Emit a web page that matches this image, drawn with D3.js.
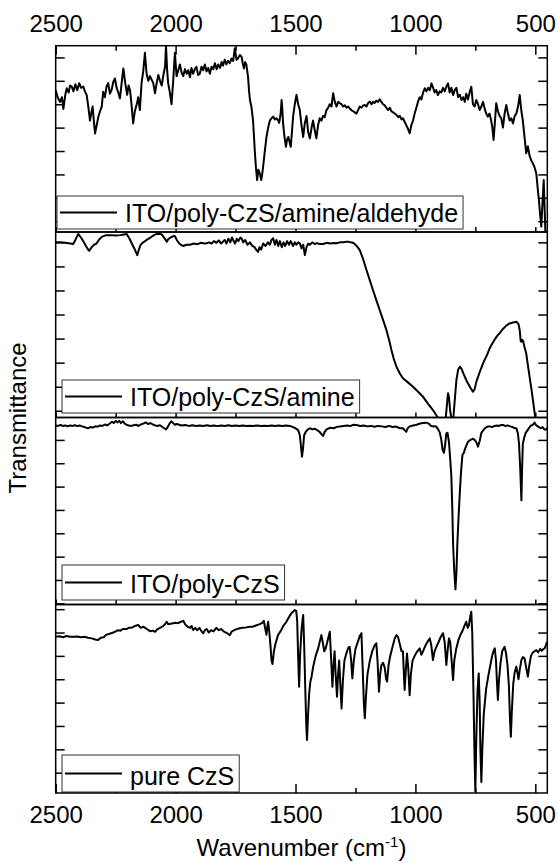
<!DOCTYPE html>
<html><head><meta charset="utf-8">
<script src="https://cdn.jsdelivr.net/npm/d3@7"></script>
<style>
body{margin:0;background:#fff}
svg{display:block}
text{font-family:"Liberation Sans",Arial,sans-serif;fill:#000}
</style>
</head><body>
<svg id="chart" width="558" height="864"></svg>
<script>
// ---------------- DATA ----------------
const xMajorTicks = [2500, 2000, 1500, 1000, 500];
const xMinorTicks = [2250, 1750, 1250, 750];
const xDomain = [2500, 450];
const seriesNames = ["ITO/poly-CzS/amine/aldehyde", "ITO/poly-CzS/amine", "ITO/poly-CzS", "pure CzS"];
const yTickValues = [1, 2, 3, 4, 5, 6, 7, 8];
const yDomains = [[0.54, 8.5], [0.72, 8.43], [0.95, 8.96], [0.13, 8.2]];

// [wavenumber (cm-1), transmittance (a.u.)]
const spectrumAldehyde = [[2500,6.6],[2492,6.3],[2482,6.1],[2474,6.3],[2468,5.8],[2460,6.4],[2454,6.68],[2446,6.5],[2440,6.8],[2433,6.75],[2426,6.55],[2418,6.85],[2410,6.6],[2402,6.9],[2394,6.7],[2385,6.75],[2378,6.55],[2371,6.4],[2364,5.9],[2357,5.3],[2352,5.6],[2346,5.9],[2341,5.3],[2336,4.75],[2329,5.1],[2322,5.47],[2315,5.7],[2308,5.9],[2302,6.53],[2295,6.3],[2288,6.75],[2281,6.9],[2274,6.45],[2267,6.6],[2260,6.95],[2253,7.1],[2246,6.7],[2239,6.5],[2232,6.25],[2225,6.9],[2218,7.53],[2210,6.9],[2202,6.4],[2196,6.8],[2190,6.6],[2184,6.0],[2177,5.18],[2170,5.7],[2162,6.0],[2156,6.3],[2149,5.75],[2142,6.9],[2135,7.4],[2128,8.2],[2121,7.3],[2114,7.0],[2107,7.2],[2100,7.05],[2093,6.9],[2086,6.47],[2079,6.9],[2072,7.25],[2065,7.0],[2058,6.8],[2050,7.3],[2044,7.6],[2040,8.49],[2035,7.4],[2031,6.9],[2024,6.5],[2017,6.0],[2010,7.0],[2003,8.2],[1996,7.2],[1989,7.45],[1982,7.7],[1975,7.35],[1968,7.2],[1961,7.5],[1954,7.3],[1947,7.45],[1940,7.15],[1934,7.55],[1927,7.3],[1920,7.5],[1913,7.6],[1906,7.25],[1899,7.3],[1892,7.6],[1885,7.45],[1878,7.7],[1871,7.4],[1864,7.55],[1857,7.3],[1850,7.6],[1843,7.5],[1836,7.75],[1829,7.5],[1822,7.7],[1815,7.55],[1808,7.8],[1802,7.65],[1795,7.9],[1788,7.7],[1781,7.85],[1774,7.75],[1767,7.95],[1760,7.85],[1753,8.39],[1746,7.9],[1740,7.95],[1732,8.1],[1725,8.03],[1720,7.75],[1715,7.53],[1710,7.8],[1705,7.7],[1698,7.18],[1694,6.6],[1690,6.18],[1684,5.9],[1677,5.3],[1673,4.6],[1670,4.04],[1665,3.3],[1660,2.76],[1655,3.2],[1649,3.05],[1643,2.76],[1639,3.0],[1635,3.33],[1628,4.0],[1621,4.6],[1614,5.0],[1607,5.3],[1600,5.4],[1593,5.47],[1586,5.35],[1579,5.4],[1572,5.3],[1568,5.2],[1562,5.6],[1558,6.18],[1555,5.8],[1552,5.2],[1546,4.6],[1540,4.18],[1535,4.5],[1530,4.6],[1525,4.4],[1520,4.18],[1515,4.8],[1510,5.47],[1503,6.0],[1496,6.4],[1489,6.0],[1482,5.75],[1475,5.1],[1468,4.6],[1461,5.2],[1454,5.5],[1447,4.8],[1440,4.54],[1433,5.0],[1427,5.3],[1420,4.9],[1413,4.54],[1406,5.1],[1399,5.4],[1392,5.3],[1385,5.5],[1378,5.45],[1371,5.75],[1364,5.85],[1357,6.0],[1350,5.9],[1343,6.47],[1336,6.1],[1329,5.9],[1322,6.1],[1315,6.04],[1308,6.0],[1301,5.9],[1294,5.95],[1287,5.85],[1280,5.9],[1274,5.82],[1267,5.75],[1260,5.7],[1253,5.65],[1246,5.6],[1239,5.75],[1232,5.9],[1225,5.85],[1218,5.95],[1211,5.97],[1204,5.9],[1197,6.05],[1190,6.11],[1183,6.0],[1176,6.1],[1170,6.05],[1163,6.15],[1156,6.1],[1149,6.21],[1142,6.1],[1135,6.0],[1128,5.95],[1121,5.85],[1114,5.75],[1107,5.85],[1100,5.7],[1093,5.65],[1086,5.6],[1079,5.54],[1072,5.45],[1065,5.5],[1058,5.35],[1052,5.4],[1045,5.25],[1038,5.1],[1031,4.95],[1024,4.76],[1017,5.1],[1010,5.3],[1003,5.6],[996,5.85],[989,6.11],[982,6.3],[975,6.2],[968,6.5],[961,6.68],[954,6.55],[947,6.7],[940,6.6],[933,6.89],[926,6.7],[920,6.5],[913,6.6],[906,6.39],[899,6.55],[892,6.5],[885,6.7],[878,6.55],[871,6.75],[864,6.89],[857,6.5],[850,6.7],[843,6.39],[836,6.6],[829,6.7],[822,6.3],[815,6.4],[808,6.18],[801,6.3],[794,6.1],[788,6.45],[781,6.2],[774,6.5],[767,6.75],[760,6.0],[753,5.9],[746,6.18],[739,6.0],[732,5.75],[725,5.9],[718,6.1],[711,5.8],[705,5.6],[698,5.47],[691,5.6],[684,5.3],[679,5.0],[674,4.47],[668,5.3],[663,6.04],[656,5.7],[649,5.5],[642,5.4],[635,5.0],[628,5.6],[621,5.97],[614,5.6],[607,5.3],[600,5.4],[593,5.18],[586,5.5],[579,5.6],[572,5.9],[565,6.39],[558,5.7],[552,5.3],[545,4.6],[538,3.9],[531,4.2],[524,3.8],[517,3.6],[510,3.47],[503,3.3],[496,3.05],[490,2.4],[485,1.9],[480,1.3],[475,0.77],[470,1.8],[465,2.76],[461,1.5],[457,0.2],[452,-0.5]];

const spectrumAmine = [[2500,8.0],[2480,8.0],[2460,7.98],[2440,7.95],[2427,7.93],[2418,8.1],[2406,8.35],[2395,8.2],[2385,8.05],[2374,7.85],[2365,7.7],[2360,7.65],[2350,7.8],[2340,7.9],[2330,7.95],[2320,8.1],[2308,8.23],[2290,8.3],[2270,8.3],[2250,8.28],[2230,8.3],[2215,8.33],[2204,8.35],[2192,8.15],[2180,7.9],[2170,7.7],[2160,7.47],[2153,7.7],[2146,7.9],[2135,8.0],[2121,8.1],[2105,8.2],[2090,8.3],[2079,8.35],[2068,8.36],[2058,8.33],[2048,8.2],[2037,8.03],[2029,8.15],[2021,8.2],[2012,8.25],[2003,8.26],[1995,8.1],[1985,7.95],[1975,7.88],[1968,7.85],[1955,7.9],[1940,7.9],[1925,7.95],[1910,7.92],[1895,7.98],[1880,7.95],[1871,7.96],[1860,8.0],[1850,7.95],[1840,8.05],[1830,7.98],[1820,8.08],[1810,7.95],[1802,8.03],[1795,8.1],[1788,7.95],[1780,8.15],[1772,8.0],[1765,8.2],[1760,8.1],[1752,7.95],[1745,8.15],[1738,8.05],[1730,8.2],[1725,8.17],[1718,8.0],[1710,8.1],[1700,7.9],[1690,8.0],[1680,7.85],[1671,7.8],[1664,7.7],[1656,7.6],[1650,7.8],[1643,7.7],[1635,7.95],[1625,7.85],[1615,8.0],[1607,7.9],[1600,8.1],[1593,8.17],[1586,7.9],[1579,8.1],[1572,7.85],[1565,8.05],[1557,7.8],[1550,8.0],[1543,7.85],[1535,8.05],[1527,7.9],[1520,8.05],[1510,7.85],[1503,8.0],[1496,7.9],[1489,8.0],[1482,7.96],[1475,7.75],[1468,7.9],[1461,7.47],[1454,7.8],[1447,7.95],[1440,7.9],[1430,8.0],[1420,7.93],[1410,7.97],[1400,7.93],[1385,7.93],[1370,7.98],[1355,7.95],[1340,7.97],[1329,7.96],[1315,8.0],[1300,8.0],[1290,8.02],[1281,8.03],[1270,8.0],[1260,7.98],[1253,7.93],[1245,7.85],[1232,7.68],[1218,7.3],[1204,6.85],[1190,6.42],[1177,6.02],[1163,5.6],[1149,5.19],[1135,4.78],[1121,4.36],[1110,3.95],[1100,3.53],[1090,3.15],[1079,2.83],[1065,2.55],[1052,2.35],[1030,2.17],[1010,2.0],[990,1.8],[968,1.58],[948,1.3],[927,1.03],[912,0.8],[899,0.6],[885,0.45],[875,0.55],[869,1.2],[864,1.73],[860,1.55],[855,1.0],[849,0.6],[843,0.55],[837,1.3],[829,2.28],[822,2.7],[815,2.83],[808,2.75],[798,2.5],[789,2.3],[781,2.14],[770,1.95],[760,1.79],[753,1.9],[746,2.2],[732,2.6],[718,2.97],[700,3.35],[690,3.6],[683,3.73],[670,3.95],[660,4.1],[649,4.22],[635,4.4],[620,4.55],[607,4.63],[593,4.67],[579,4.7],[570,4.6],[565,4.35],[561,3.9],[558,3.87],[555,3.95],[551,3.9],[545,3.65],[538,3.39],[531,2.9],[524,2.42],[517,1.95],[510,1.45],[504,1.0],[499,0.62],[494,0.3]];

const spectrumPolyCzS = [[2500,8.62],[2490,8.6],[2480,8.64],[2470,8.6],[2460,8.62],[2450,8.58],[2440,8.62],[2430,8.6],[2420,8.63],[2410,8.59],[2400,8.62],[2390,8.58],[2380,8.55],[2372,8.52],[2364,8.5],[2355,8.55],[2345,8.53],[2335,8.58],[2325,8.57],[2315,8.62],[2305,8.6],[2295,8.66],[2285,8.62],[2275,8.7],[2265,8.78],[2258,8.72],[2250,8.82],[2242,8.75],[2235,8.82],[2228,8.72],[2220,8.8],[2212,8.7],[2205,8.65],[2195,8.62],[2185,8.6],[2175,8.63],[2165,8.65],[2155,8.6],[2145,8.66],[2135,8.7],[2125,8.75],[2115,8.68],[2105,8.72],[2095,8.66],[2085,8.62],[2075,8.6],[2065,8.63],[2055,8.55],[2047,8.5],[2040,8.45],[2033,8.55],[2025,8.7],[2018,8.8],[2010,8.72],[2003,8.65],[1995,8.68],[1985,8.65],[1975,8.62],[1960,8.64],[1945,8.6],[1930,8.63],[1915,8.6],[1900,8.62],[1885,8.6],[1870,8.63],[1855,8.6],[1840,8.62],[1825,8.59],[1810,8.62],[1795,8.6],[1780,8.63],[1765,8.6],[1750,8.62],[1735,8.6],[1720,8.62],[1705,8.6],[1690,8.61],[1675,8.6],[1660,8.62],[1645,8.6],[1630,8.61],[1615,8.6],[1600,8.62],[1585,8.6],[1570,8.62],[1555,8.6],[1540,8.62],[1524,8.6],[1510,8.55],[1500,8.5],[1489,8.42],[1482,8.2],[1476,7.6],[1473,7.28],[1469,7.6],[1464,8.2],[1457,8.35],[1448,8.45],[1440,8.5],[1430,8.45],[1420,8.48],[1410,8.42],[1400,8.35],[1392,8.25],[1385,8.17],[1378,8.35],[1370,8.45],[1355,8.52],[1340,8.5],[1328,8.56],[1315,8.57],[1300,8.6],[1285,8.62],[1270,8.6],[1258,8.65],[1246,8.64],[1230,8.6],[1215,8.62],[1200,8.58],[1185,8.6],[1170,8.56],[1155,8.6],[1140,8.58],[1125,8.55],[1110,8.6],[1095,8.55],[1080,8.57],[1065,8.5],[1052,8.5],[1045,8.42],[1038,8.35],[1032,8.5],[1024,8.58],[1010,8.62],[995,8.65],[980,8.7],[968,8.72],[954,8.74],[945,8.7],[935,8.6],[927,8.58],[913,8.57],[905,8.45],[898,8.3],[892,8.0],[887,7.6],[881,7.45],[876,7.8],[871,8.28],[866,8.3],[860,7.9],[855,7.2],[850,6.42],[846,5.0],[843,3.57],[838,2.4],[833,1.6],[829,2.3],[825,3.57],[820,4.7],[815,5.71],[810,6.6],[804,7.35],[798,7.45],[792,7.65],[781,7.92],[770,8.0],[760,8.05],[753,8.0],[746,7.9],[739,7.71],[732,7.95],[725,8.3],[718,8.4],[710,8.5],[698,8.57],[690,8.58],[680,8.55],[670,8.6],[660,8.62],[650,8.6],[642,8.64],[635,8.64],[625,8.6],[615,8.62],[605,8.58],[595,8.55],[585,8.5],[579,8.5],[573,8.3],[568,7.85],[563,6.8],[558,5.42],[555,6.8],[552,7.85],[546,8.1],[540,8.3],[530,8.45],[520,8.6],[510,8.65],[503,8.74],[498,8.65],[492,8.6],[485,8.55],[478,8.5],[470,8.55],[462,8.45],[454,8.45],[450,8.5]];

const spectrumPureCzS = [[2500,6.82],[2485,6.84],[2470,6.8],[2455,6.85],[2440,6.82],[2427,6.82],[2410,6.83],[2395,6.8],[2380,6.82],[2365,6.78],[2350,6.75],[2335,6.7],[2323,6.68],[2312,6.78],[2300,6.8],[2290,6.9],[2275,6.95],[2260,7.0],[2250,7.05],[2240,7.1],[2230,7.08],[2220,7.15],[2205,7.15],[2195,7.2],[2180,7.22],[2170,7.28],[2156,7.32],[2145,7.2],[2135,7.25],[2120,7.15],[2105,7.05],[2095,7.08],[2086,7.03],[2075,7.15],[2065,7.2],[2055,7.25],[2045,7.35],[2037,7.46],[2030,7.35],[2020,7.38],[2010,7.4],[2000,7.42],[1990,7.4],[1980,7.45],[1968,7.5],[1960,7.35],[1950,7.25],[1940,7.2],[1933,7.28],[1927,7.11],[1918,7.2],[1910,7.1],[1900,7.2],[1892,7.05],[1885,6.97],[1878,7.1],[1870,7.15],[1862,7.0],[1852,7.1],[1842,7.05],[1830,7.2],[1820,7.1],[1810,7.15],[1800,7.05],[1790,7.0],[1782,6.95],[1774,6.89],[1765,7.05],[1755,7.1],[1745,7.15],[1732,7.18],[1720,7.2],[1705,7.22],[1690,7.25],[1677,7.25],[1665,7.3],[1652,7.35],[1640,7.4],[1632,7.5],[1627,7.2],[1621,6.9],[1617,7.3],[1614,7.46],[1609,7.0],[1604,6.4],[1600,5.8],[1596,5.65],[1590,6.2],[1584,6.5],[1573,6.89],[1560,7.1],[1550,7.3],[1538,7.46],[1525,7.7],[1515,7.85],[1503,7.96],[1497,7.93],[1493,7.5],[1489,6.0],[1485,4.68],[1481,6.0],[1475,7.11],[1470,7.6],[1468,7.75],[1464,6.5],[1459,4.5],[1455,3.0],[1452,2.4],[1448,3.4],[1443,4.4],[1438,4.9],[1433,5.11],[1427,5.5],[1420,5.82],[1413,6.1],[1406,6.3],[1399,6.6],[1392,6.89],[1385,6.5],[1380,6.2],[1375,6.3],[1371,6.45],[1365,6.7],[1357,7.03],[1352,6.0],[1346,4.68],[1342,5.5],[1337,6.2],[1333,5.3],[1327,4.25],[1323,5.1],[1318,5.8],[1313,4.8],[1308,3.75],[1302,5.0],[1296,5.8],[1288,6.1],[1280,6.35],[1274,6.39],[1268,5.8],[1263,5.04],[1257,5.8],[1250,6.3],[1240,6.6],[1232,6.85],[1225,6.97],[1220,5.5],[1215,4.0],[1211,3.33],[1206,4.3],[1200,5.2],[1190,5.8],[1180,6.2],[1170,6.45],[1163,6.54],[1158,5.8],[1152,4.47],[1147,5.2],[1142,5.6],[1135,5.7],[1128,5.5],[1122,5.0],[1118,4.9],[1112,5.6],[1105,6.0],[1095,6.4],[1086,6.75],[1079,6.89],[1072,6.8],[1065,6.5],[1058,6.2],[1052,6.2],[1048,5.2],[1045,4.54],[1040,5.4],[1035,6.1],[1030,5.5],[1024,4.32],[1019,5.2],[1012,5.8],[1003,6.0],[995,6.15],[988,6.25],[982,6.32],[975,6.05],[968,6.2],[960,6.4],[950,6.6],[940,6.75],[933,6.4],[927,5.82],[920,6.2],[912,6.4],[905,6.55],[895,6.8],[885,6.97],[878,6.6],[871,5.61],[865,6.3],[860,6.75],[855,6.6],[849,5.8],[843,4.97],[838,5.8],[830,6.3],[820,6.7],[810,6.95],[802,7.11],[795,7.3],[788,7.46],[782,7.2],[777,7.3],[771,7.7],[767,7.89],[763,7.0],[758,4.5],[754,2.0],[750,0.2],[746,2.5],[741,4.5],[736,5.25],[732,4.0],[729,2.0],[725,0.6],[721,2.0],[715,3.5],[705,4.6],[695,5.2],[690,5.47],[680,6.0],[673,6.25],[669,6.32],[664,5.8],[660,4.9],[656,4.11],[652,4.9],[645,5.7],[638,6.2],[628,6.39],[622,6.1],[616,5.6],[610,4.7],[606,3.4],[602,2.54],[598,3.6],[592,4.8],[586,5.3],[579,5.54],[575,5.3],[570,5.0],[565,5.4],[558,5.82],[552,5.95],[545,5.9],[538,5.5],[531,5.11],[525,5.6],[518,6.0],[510,6.15],[503,6.2],[496,6.25],[488,6.15],[480,6.3],[473,6.22],[466,6.3],[461,6.32],[456,6.45],[451,6.6]];

const spectra = [spectrumAldehyde, spectrumAmine, spectrumPolyCzS, spectrumPureCzS];

// ---------------- LAYOUT ----------------
const svg = d3.select("#chart");
const left = 55.7, right = 547.3;
const edges = [45.7, 232, 417.5, 604.5, 793];
const fontSize = 24;

const x = d3.scaleLinear().domain(xDomain).range([left, right]);
const allXTicks = xMajorTicks.concat(xMinorTicks);

const defs = svg.append("defs");

spectra.forEach((data, i) => {
  const top = edges[i], bottom = edges[i + 1];
  const y = d3.scaleLinear().domain(yDomains[i]).range([bottom, top]);
  const g = svg.append("g");

  defs.append("clipPath").attr("id", "clip" + i)
    .append("rect").attr("x", left).attr("y", top)
    .attr("width", right - left).attr("height", bottom - top);

  g.append("path").datum(data)
    .attr("clip-path", `url(#clip${i})`)
    .attr("fill", "none").attr("stroke", "#000").attr("stroke-width", 2)
    .attr("stroke-linejoin", "round")
    .attr("d", d3.line().x(d => x(d[0])).y(d => y(d[1])));

  const ticksIn = yTickValues.filter(v => v > yDomains[i][0] && v < yDomains[i][1]);
  const la = g.append("g").attr("transform", `translate(${left},0)`)
    .call(d3.axisRight(y).tickValues(ticksIn).tickSize(9).tickFormat(""));
  const ra = g.append("g").attr("transform", `translate(${right},0)`)
    .call(d3.axisLeft(y).tickValues(ticksIn).tickSize(9).tickFormat(""));
  [la, ra].forEach(a => { a.select(".domain").remove(); a.selectAll("line").attr("stroke-width", 1.5); });

  if (i < 3) {
    const sa = g.append("g").attr("transform", `translate(0,${bottom})`)
      .call(d3.axisTop(x).tickValues(allXTicks).tickSize(5).tickFormat(""));
    sa.select(".domain").remove();
    sa.selectAll("line").attr("stroke-width", 1.5);
  }
});

// top axis
const topMaj = svg.append("g").attr("transform", `translate(0,${edges[0]})`)
  .call(d3.axisTop(x).tickValues(xMajorTicks).tickSize(-9).tickPadding(14).tickFormat(d3.format("d")));
const topMin = svg.append("g").attr("transform", `translate(0,${edges[0]})`)
  .call(d3.axisTop(x).tickValues(xMinorTicks).tickSize(-5).tickFormat(""));
// bottom axis
const botMaj = svg.append("g").attr("transform", `translate(0,${edges[4]})`)
  .call(d3.axisBottom(x).tickValues(xMajorTicks).tickSize(-9).tickPadding(13).tickFormat(d3.format("d")));
const botMin = svg.append("g").attr("transform", `translate(0,${edges[4]})`)
  .call(d3.axisBottom(x).tickValues(xMinorTicks).tickSize(-5).tickFormat(""));
[topMaj, topMin, botMaj, botMin].forEach(a => {
  a.select(".domain").remove();
  a.selectAll("line").attr("stroke-width", 1.5);
  a.selectAll("text").attr("font-size", fontSize).attr("font-family", '"Liberation Sans", Arial, sans-serif').attr("fill", "#000");
});

// legends
const legendX = [57, 62, 62, 62];
const legendBottomGap = [3, 4.5, 4.5, 1];
const legendH = [33, 33, 35, 37];
seriesNames.forEach((name, i) => {
  const bottom = edges[i + 1] - legendBottomGap[i];
  const bx = legendX[i], h = legendH[i], by = bottom - h;
  const lg = svg.append("g");
  const rect = lg.append("rect").attr("x", bx).attr("y", by).attr("height", h)
    .attr("fill", "#fff").attr("stroke", "#333").attr("stroke-width", 1);
  lg.append("line").attr("x1", bx + 3).attr("x2", bx + 60)
    .attr("y1", by + h / 2).attr("y2", by + h / 2)
    .attr("stroke", "#000").attr("stroke-width", 2);
  const t = lg.append("text").attr("x", bx + 68).attr("y", bottom - 7.5)
    .attr("font-size", 25).text(name);
  const tw = t.node().getComputedTextLength();
  rect.attr("width", 68 + tw + 5);
});

// frames
for (let i = 0; i < 4; i++) {
  svg.append("rect").attr("x", left).attr("y", edges[i])
    .attr("width", right - left).attr("height", edges[i + 1] - edges[i])
    .attr("fill", "none").attr("stroke", "#000").attr("stroke-width", 1.5);
}

// axis titles
svg.append("text").attr("transform", `translate(26,418) rotate(-90)`)
  .attr("text-anchor", "middle").attr("font-size", fontSize).text("Transmittance");

const xt = svg.append("text").attr("x", (left + right) / 2).attr("y", 856)
  .attr("text-anchor", "middle").attr("font-size", fontSize);
xt.append("tspan").text("Wavenumber (cm");
xt.append("tspan").attr("font-size", 15).attr("dy", -9).text("-1");
xt.append("tspan").attr("dy", 9).text(")");
</script>
</body></html>
